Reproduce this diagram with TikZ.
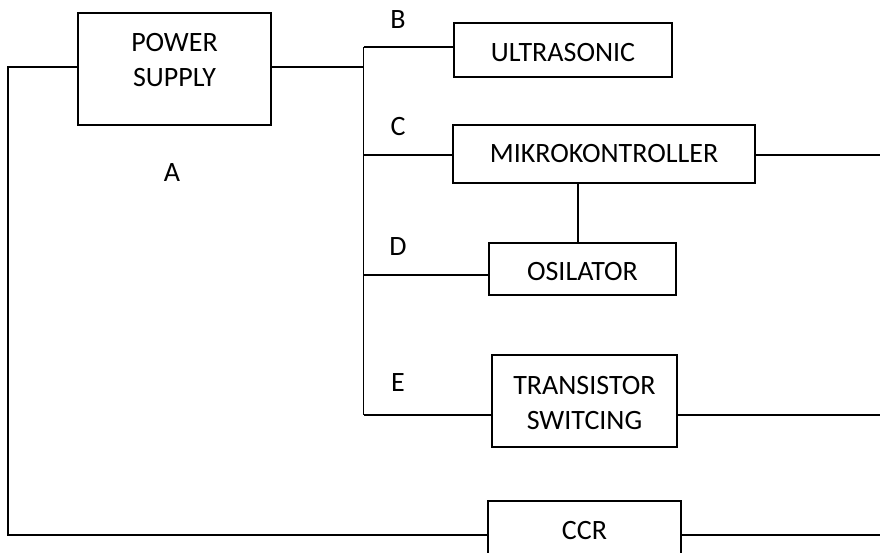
\documentclass[tikz,border=0pt]{standalone}
\usepackage{fontspec}
\setmainfont{Carlito}
\begin{document}
\begin{tikzpicture}[x=1pt,y=-1pt,line width=1.5pt,
  box/.style={draw,rectangle,inner sep=0pt,line width=1.5pt},
  txt/.style={inner sep=0pt,align=center,font=\fontsize{28}{35}\selectfont},
  lbl/.style={inner sep=0pt,font=\fontsize{28}{35}\selectfont}]
\useasboundingbox (0,0) rectangle (880,552);
% boxes
\node[box,minimum width=193pt,minimum height=112pt] (ps) at (174.5,69) {};
\node[txt] (pstxt) at (174.5,60) {POWER\\SUPPLY};
\node[box,minimum width=218pt,minimum height=54pt] (us) at (563,50) {};
\node[txt] (ustxt) at (563,52.5) {ULTRASONIC};
\node[box,minimum width=302pt,minimum height=58pt] (mk) at (604,154) {};
\node[txt] (mktxt) at (604,154) {MIKROKONTROLLER};
\node[box,minimum width=187pt,minimum height=52pt] (osc) at (582.5,269) {};
\node[txt] (osctxt) at (582.5,272) {OSILATOR};
\node[box,minimum width=185pt,minimum height=92pt] (tr) at (584.5,401) {};
\node[txt] (trtxt) at (584.5,403.5) {TRANSISTOR\\SWITCING};
\node[box,minimum width=193pt,minimum height=60pt] (ccr) at (584.5,531) {};
\node[txt] (ccrtxt) at (584.5,531) {CCR};
% labels
\node[lbl] (lA) at (172,173) {A};
\node[lbl] (lB) at (398,20) {B};
\node[lbl] (lC) at (398,127) {C};
\node[lbl] (lD) at (398,247) {D};
\node[lbl] (lE) at (398,383) {E};
% coordinates
\coordinate (bB) at (363.5,47);
\coordinate (bP) at (363.5,67);
\coordinate (bC) at (363.5,155);
\coordinate (bD) at (363.5,275);
\coordinate (bE) at (363.5,415);
\coordinate (lt) at (8,67);
\coordinate (lb) at (8,535);
\coordinate (rC) at (880,155);
\coordinate (rE) at (880,415);
\coordinate (rF) at (880,535);
\coordinate (mo) at (578,183);
% wires
\draw (bB) -- (bE);
\draw (ps.east |- bP) -- (bP);
\draw (bB) -- (bB -| us.west);
\draw (bC) -- (bC -| mk.west);
\draw (bD) -- (bD -| osc.west);
\draw (bE) -- (bE -| tr.west);
\draw (mo) -- (mo |- osc.north);
\draw (mk.east |- rC) -- (rC);
\draw (tr.east |- rE) -- (rE);
\draw (ps.west |- lt) -- (lt) -- (lb) -- (lb -| ccr.west);
\draw (ccr.east |- rF) -- (rF);
\end{tikzpicture}
\end{document}
